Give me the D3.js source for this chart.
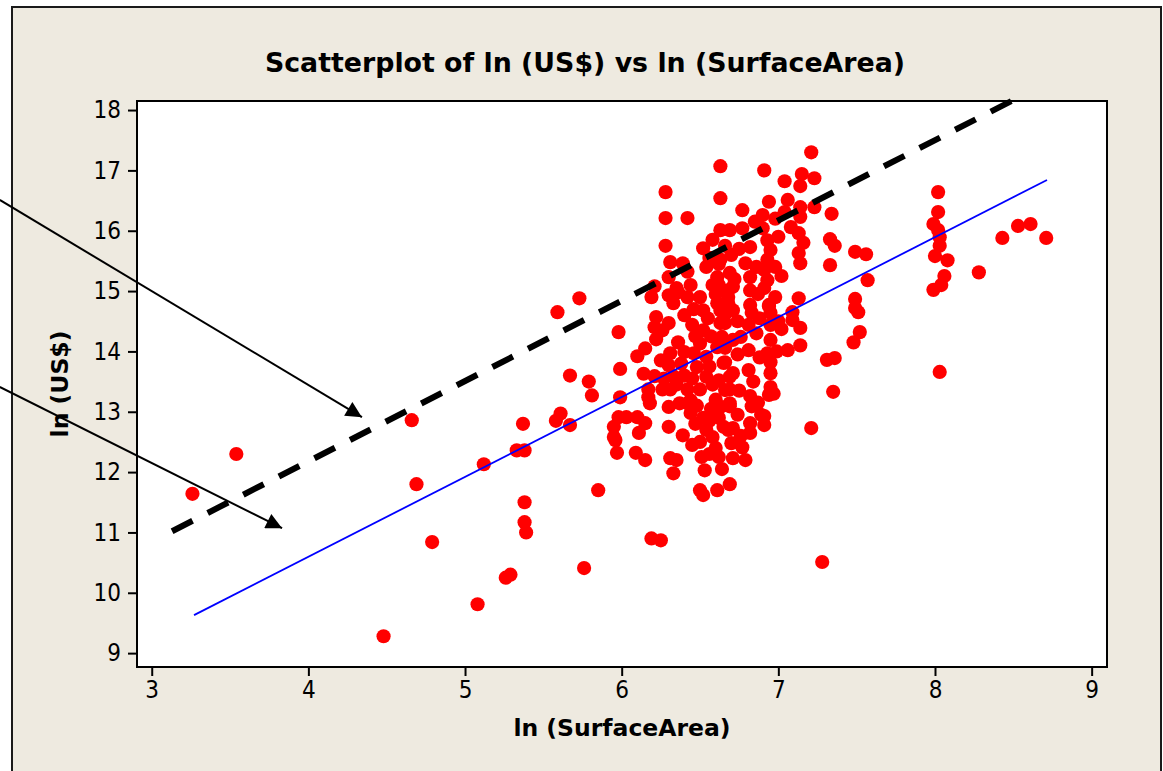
<!DOCTYPE html>
<html>
<head>
<meta charset="utf-8">
<script src="https://cdn.jsdelivr.net/npm/d3@7"></script>
<style>
  body { margin: 0; background: #fff; }
  text { font-family: "DejaVu Sans", sans-serif; fill: #000; }
</style>
</head>
<body>
<div id="chart"></div>
<script>
// ln(SurfaceArea), ln(US$) pairs
var points = [
  [3.26,11.64],[3.54,12.30],[4.48,9.28],[4.66,12.86],[4.69,11.80],[4.79,10.84],[5.12,12.13],[5.08,9.81],
  [5.26,10.25],[5.29,10.30],[5.33,12.36],[5.38,12.36],[5.37,12.80],[5.38,11.50],[5.38,11.17],[5.39,11.00],
  [5.59,14.65],[5.73,14.88],[5.58,12.85],[5.61,12.97],[5.67,13.60],[5.67,12.78],[5.79,13.50],[5.81,13.27],
  [5.85,11.70],[5.76,10.41],[6.19,10.90],[6.25,10.87],[7.28,10.51],
  [8.02,16.64],[8.02,16.31],[7.99,16.11],[8.02,16.01],[8.03,15.89],[8.03,15.75],[8.00,15.58],[8.08,15.51],
  [8.06,15.25],[8.04,15.10],[7.99,15.02],[8.03,13.66],[8.28,15.31],[8.43,15.88],[8.53,16.08],[8.61,16.11],[8.71,15.88],
  [7.21,17.30],[6.91,17.00],[7.04,16.82],[7.15,16.94],[7.23,16.87],[7.14,16.74],[6.94,16.48],[7.06,16.51],
  [7.14,16.39],[7.23,16.39],[7.04,16.31],[7.14,16.23],[7.34,16.28],[7.13,15.96],[7.16,15.80],[7.33,15.86],
  [7.36,15.75],[7.13,15.63],[7.14,15.46],[7.33,15.43],[7.49,15.65],[7.56,15.61],[7.57,15.18],[7.02,15.25],
  [7.13,14.88],[7.49,14.87],[7.49,14.72],[7.51,14.65],[7.52,14.32],[7.48,14.15],[6.94,14.75],[7.09,14.65],
  [7.09,14.52],[7.14,14.39],[7.02,14.37],[7.06,14.02],[7.14,14.10],[7.31,13.86],[7.36,13.89],[7.35,13.33],
  [7.21,12.73],[6.91,12.93],[6.91,12.78],
  [6.63,17.07],[6.28,16.64],[6.63,16.54],[6.28,16.21],[6.42,16.21],[6.77,16.34],[6.63,16.01],[6.69,16.01],
  [6.28,15.75],[6.58,15.85],[6.52,15.71],[6.31,15.48],[6.39,15.46],[6.42,15.32],[6.54,15.40],[6.62,15.45],
  [6.30,15.23],[6.21,15.08],[6.61,15.23],[6.69,15.30],[6.62,15.10],[6.71,15.07],[6.19,14.90],[6.30,14.93],
  [6.42,14.90],[6.50,14.90],[6.68,14.90],
  [5.98,14.32],[5.99,13.71],[5.99,13.24],[6.33,14.80],[6.22,14.57],[6.21,14.40],[6.30,14.47],[6.26,14.35],
  [6.45,14.44],[6.15,14.05],[6.10,13.92],[6.31,13.97],[6.30,13.77],[6.40,13.99],[6.46,13.97],[6.14,13.63],
  [6.21,13.59],[6.33,13.59],[6.17,13.37],[6.17,13.24],[6.26,13.37],[6.31,13.37],[6.42,13.37],[6.44,13.19],
  [6.52,14.68],[6.52,14.35],[6.50,14.13],[6.54,13.91],[6.48,13.74],[6.54,13.58],[6.50,13.37],[6.60,13.20],
  [6.61,14.80],[6.63,14.47],[6.61,14.07],[6.65,13.81],[6.62,13.52],[6.69,13.37],[6.71,14.68],[6.71,14.19],
  [6.71,13.64],[6.69,13.14],[6.37,13.14],
  [5.98,12.91],[6.03,12.91],[6.10,12.91],[5.95,12.75],[5.95,12.58],[5.96,12.53],[6.15,12.81],[6.11,12.65],
  [5.97,12.32],[6.09,12.32],[6.15,12.20],[6.18,13.14],[6.30,13.08],[6.30,12.75],[6.39,12.61],[6.31,12.23],
  [6.35,12.20],[6.33,11.98],[6.44,12.98],[6.50,12.50],[6.54,12.70],[6.58,12.58],[6.53,12.03],[6.50,11.70],
  [6.52,11.62],[6.61,11.70],[6.69,11.80],[6.62,12.25],[6.71,12.23],[6.70,12.48],[6.65,12.75],[6.71,12.73],
  [6.63,13.08],[6.42,13.14],
  [6.90,16.26],[6.77,16.04],[6.90,16.04],[7.08,16.06],[6.93,15.84],[6.82,15.73],[6.95,15.68],[6.63,15.52],
  [6.79,15.46],[6.93,15.52],[6.82,15.23],[6.91,15.35],[6.93,15.18],[6.68,15.01],[6.82,15.01],[6.91,15.05],
  [6.68,14.80],[6.82,14.77],[6.94,14.77],[6.63,14.68],[6.83,14.64],[6.95,14.64],[6.66,14.47],[6.81,14.44],
  [6.95,14.44],[6.64,14.24],[6.76,14.24],[6.86,14.30],[6.95,14.19],[6.66,14.06],[6.81,14.02],[6.93,13.97],
  [6.66,13.82],[6.81,13.69],[6.95,13.82],[6.95,13.64],[6.69,13.58],[6.84,13.50],[6.95,13.41],[6.66,13.36],
  [6.82,13.26],[6.94,13.28],[6.69,13.09],[6.83,13.09],[6.82,12.81],[6.68,12.70],[6.82,12.65],[6.77,12.41],
  [6.79,12.20],
  [6.55,14.55],[6.57,14.25],[6.56,13.75],[6.58,13.45],[6.57,13.05],[6.56,12.85],[6.47,14.25],[6.45,13.55],
  [6.47,12.80],[6.40,13.60],[6.38,13.80],[6.36,14.15],[6.40,14.60],[6.60,14.95],[6.66,14.62],[6.74,14.50],
  [6.74,13.95],[6.75,13.35],[6.74,12.95],[6.76,12.60],[6.72,15.20],[6.75,15.70],[6.86,15.40],[6.87,14.95],
  [6.88,14.55],[6.88,13.90],[6.87,13.15],[6.89,12.95],[6.60,12.40],[6.64,12.05],[6.56,12.30],[6.45,12.45],
  [6.25,13.85],[6.22,14.20],[6.35,13.45],[6.27,13.55],[6.46,14.70],[6.58,15.10],[6.85,16.15],[6.98,16.20],
  [7.00,15.90],[6.98,15.40],[6.98,14.90],[7.00,14.50],[6.99,14.00],[6.97,13.30],[6.56,15.55],[6.44,15.10],
  [6.36,14.98],[6.66,15.75],[6.70,15.60],[6.35,15.05],[6.48,13.10],[6.62,12.90],[6.51,12.25],[6.52,12.90]
];

// fitted line (blue) and the dashed reference line
var fitLine = [[3.27, 9.63], [8.715, 16.84]];
var dashLine = [[3.13, 11.02], [8.51, 18.18]];

// the two annotation arrows (start, tip)
var arrows = [
  [[2.03, 16.51], [4.342, 12.91]],
  [[2.03, 13.41], [3.832, 11.07]]
];

var xTicks = [3, 4, 5, 6, 7, 8, 9];
var yTicks = [9, 10, 11, 12, 13, 14, 15, 16, 17, 18];

var W = 1163, H = 771;
var plot = { left: 137, top: 101, right: 1107, bottom: 667 };

var svg = d3.select("#chart").append("svg")
    .attr("width", W)
    .attr("height", H);

svg.append("defs").append("marker")
    .attr("id", "head")
    .attr("viewBox", "0 0 10 10")
    .attr("refX", 10)
    .attr("refY", 5)
    .attr("markerUnits", "userSpaceOnUse")
    .attr("markerWidth", 18)
    .attr("markerHeight", 16)
    .attr("orient", "auto")
  .append("path")
    .attr("d", "M0,0 L10,5 L0,10 Z")
    .attr("fill", "#000");

// outer beige frame
svg.append("rect")
    .attr("x", 12).attr("y", 7)
    .attr("width", 1149).attr("height", 800)
    .attr("fill", "#EEEAE0")
    .attr("stroke", "#1a1a1a")
    .attr("stroke-width", 2);

// plot area
svg.append("rect")
    .attr("x", plot.left).attr("y", plot.top)
    .attr("width", plot.right - plot.left)
    .attr("height", plot.bottom - plot.top)
    .attr("fill", "#fff");

var x = d3.scaleLinear().domain([2.906, 9.098]).range([plot.left, plot.right]);
var y = d3.scaleLinear().domain([8.77, 18.15]).range([plot.bottom, plot.top]);

// axes
var xAxis = svg.append("g")
    .attr("transform", "translate(0," + plot.bottom + ")")
    .call(d3.axisBottom(x).tickValues(xTicks).tickFormat(d3.format("d"))
        .tickSize(9).tickPadding(5).tickSizeOuter(0));
var yAxis = svg.append("g")
    .attr("transform", "translate(" + plot.left + ",0)")
    .call(d3.axisLeft(y).tickValues(yTicks).tickFormat(d3.format("d"))
        .tickSize(9).tickPadding(7).tickSizeOuter(0));

[xAxis, yAxis].forEach(function(a) {
    a.select(".domain").remove();
    a.selectAll(".tick line").attr("stroke", "#000").attr("stroke-width", 2);
    a.selectAll(".tick text")
        .style("font-size", "24px")
        .style("font-family", "'DejaVu Sans Condensed', 'DejaVu Sans', sans-serif")
        .attr("fill", "#000");
});

// plot border
svg.append("rect")
    .attr("x", plot.left).attr("y", plot.top)
    .attr("width", plot.right - plot.left)
    .attr("height", plot.bottom - plot.top)
    .attr("fill", "none")
    .attr("stroke", "#000")
    .attr("stroke-width", 2);

// points
svg.append("g").selectAll("circle")
    .data(points)
    .enter()
    .append("circle")
    .attr("cx", function(d) { return x(d[0]); })
    .attr("cy", function(d) { return y(d[1]); })
    .attr("r", 7.1)
    .attr("fill", "#FF0000");

var line = d3.line()
    .x(function(d) { return x(d[0]); })
    .y(function(d) { return y(d[1]); });

svg.append("path")
    .datum(fitLine)
    .attr("d", line)
    .attr("fill", "none")
    .attr("stroke", "#0000FF")
    .attr("stroke-width", 1.8);

svg.append("path")
    .datum(dashLine)
    .attr("d", line)
    .attr("fill", "none")
    .attr("stroke", "#000")
    .attr("stroke-width", 6)
    .attr("stroke-dasharray", "23,17");

svg.append("g").selectAll("path")
    .data(arrows)
    .enter()
    .append("path")
    .attr("d", line)
    .attr("fill", "none")
    .attr("stroke", "#000")
    .attr("stroke-width", 2)
    .attr("marker-end", "url(#head)");

// titles
svg.append("text")
    .attr("x", 585)
    .attr("y", 72)
    .attr("text-anchor", "middle")
    .style("font-size", "26.8px")
    .style("font-weight", "bold")
    .text("Scatterplot of ln (US$) vs ln (SurfaceArea)");

svg.append("text")
    .attr("x", (plot.left + plot.right) / 2)
    .attr("y", 736)
    .attr("text-anchor", "middle")
    .style("font-size", "23.5px")
    .style("font-weight", "bold")
    .text("ln (SurfaceArea)");

svg.append("text")
    .attr("transform", "translate(68," + ((plot.top + plot.bottom) / 2) + ") rotate(-90)")
    .attr("text-anchor", "middle")
    .style("font-size", "23.5px")
    .style("font-weight", "bold")
    .text("ln (US$)");
</script>
</body>
</html>
